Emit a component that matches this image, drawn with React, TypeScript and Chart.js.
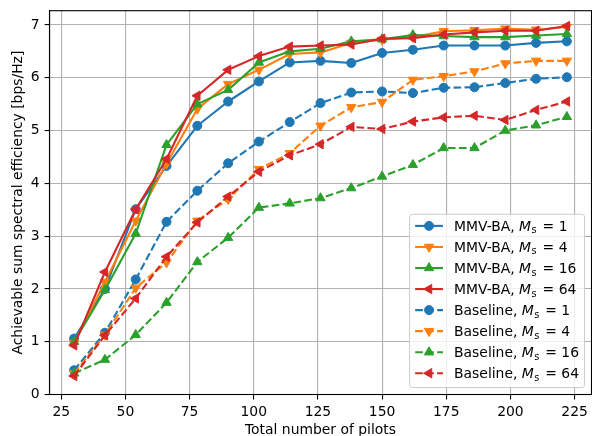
import { useEffect, useRef } from "react";
import { Chart, registerables } from "chart.js";

Chart.register(...registerables);

// ---------------- data ----------------
const pilots = [30, 42, 54, 66, 78, 90, 102, 114, 126, 138, 150, 162, 174, 186, 198, 210, 222];
const xTicks = [25, 50, 75, 100, 125, 150, 175, 200, 225];
const yTicks = [0, 1, 2, 3, 4, 5, 6, 7];

const mmvMs1 = [1.06, 2.0, 3.51, 4.33, 5.09, 5.55, 5.93, 6.29, 6.32, 6.28, 6.47, 6.53, 6.61, 6.61, 6.61, 6.66, 6.69];
const mmvMs4 = [0.98, 2.13, 3.29, 4.37, 5.41, 5.88, 6.15, 6.45, 6.48, 6.66, 6.72, 6.77, 6.88, 6.9, 6.93, 6.91, 6.96];
const mmvMs16 = [1.0, 1.98, 3.05, 4.73, 5.5, 5.77, 6.29, 6.5, 6.55, 6.69, 6.73, 6.81, 6.79, 6.77, 6.77, 6.8, 6.83];
const mmvMs64 = [0.93, 2.32, 3.51, 4.46, 5.66, 6.15, 6.41, 6.59, 6.61, 6.63, 6.74, 6.75, 6.82, 6.86, 6.89, 6.89, 6.98];
const baseMs1 = [0.46, 1.17, 2.18, 3.27, 3.86, 4.38, 4.79, 5.16, 5.52, 5.72, 5.74, 5.71, 5.81, 5.82, 5.9, 5.98, 6.01];
const baseMs4 = [0.4, 1.13, 2.02, 2.5, 3.29, 3.7, 4.27, 4.57, 5.09, 5.44, 5.54, 5.96, 6.03, 6.12, 6.27, 6.32, 6.32];
const baseMs16 = [0.4, 0.66, 1.13, 1.74, 2.51, 2.97, 3.54, 3.62, 3.72, 3.91, 4.13, 4.35, 4.67, 4.67, 5.0, 5.1, 5.26];
const baseMs64 = [0.35, 1.12, 1.82, 2.61, 3.26, 3.75, 4.22, 4.53, 4.74, 5.07, 5.03, 5.17, 5.25, 5.28, 5.2, 5.39, 5.55];

const methods = ["MMV-BA", "Baseline"];
const msValues = ["1", "4", "16", "64"];
const seriesValues = [
  [mmvMs1, mmvMs4, mmvMs16, mmvMs64],
  [baseMs1, baseMs4, baseMs16, baseMs64],
];

const xTitle = "Total number of pilots";
const yTitle = "Achievable sum spectral efficiency [bps/Hz]";

// ---------------- styles ----------------
const FONT = "'DejaVu Sans', sans-serif";
const FS = 13.9;
const colors = ["#1f77b4", "#ff7f0e", "#2ca02c", "#d62728"];
// marker per Ms: circle, down triangle, up triangle, left triangle
const markerStyle = ["circle", "triangle", "triangle", "triangle"];
const markerRot = [0, 180, 0, 270];
const markerRad = [4.5, 5.4, 5.4, 5.4];
const DASH = [7.7, 3.3];

function drawMarker(ctx: CanvasRenderingContext2D, k: number, x: number, y: number, color: string) {
  ctx.save();
  ctx.setLineDash([]);
  ctx.fillStyle = color;
  ctx.strokeStyle = color;
  ctx.lineWidth = 1;
  ctx.beginPath();
  const r = markerRad[k];
  if (markerStyle[k] === "circle") {
    ctx.arc(x, y, r, 0, Math.PI * 2);
  } else {
    let a = (markerRot[k] * Math.PI) / 180;
    for (let i = 0; i < 3; i++) {
      const px = x + Math.sin(a) * r;
      const py = y - Math.cos(a) * r;
      if (i === 0) ctx.moveTo(px, py);
      else ctx.lineTo(px, py);
      a += (2 * Math.PI) / 3;
    }
    ctx.closePath();
  }
  ctx.fill();
  ctx.stroke();
  ctx.restore();
}

const framePlugin = {
  id: "mplFrame",
  afterDatasetsDraw(chart: any) {
    const { ctx, chartArea: a } = chart;
    ctx.save();
    ctx.strokeStyle = "#000";
    ctx.lineWidth = 1.1;
    ctx.strokeRect(a.left, a.top, a.right - a.left, a.bottom - a.top);
    ctx.restore();
  },
};

const legendPlugin = {
  id: "mplLegend",
  afterDraw(chart: any) {
    const ctx: CanvasRenderingContext2D = chart.ctx;
    const a = chart.chartArea;
    const regular = `${FS}px ${FONT}`;
    const italic = `italic ${FS}px ${FONT}`;
    const small = `${FS * 0.7}px ${FONT}`;
    const entries: { m: string; v: string; k: number; dashed: boolean }[] = [];
    methods.forEach((m, mi) => msValues.forEach((v, k) => entries.push({ m, v, k, dashed: mi === 1 })));
    const parts = (e: any): [string, string, number, number][] => [
      [`${e.m}, `, regular, 0, 0],
      ["M", italic, 0, 0.5],
      ["s", small, 2.5, 1.5],
      [` = ${e.v}`, regular, 0, 0],
    ];
    ctx.save();
    const widthOf = (e: any) =>
      parts(e).reduce((s, [t, f, , extra]) => {
        ctx.font = f;
        return s + ctx.measureText(t).width + extra;
      }, 0);
    const maxW = Math.max(...entries.map(widthOf));
    const pad = 0.4 * FS;
    const handleLen = 2 * FS;
    const handlePad = 0.8 * FS;
    const rowH = 21.05;
    const right = a.right - 0.5 * FS;
    const bottom = a.bottom - 0.5 * FS;
    const left = right - (pad + handleLen + handlePad + maxW + pad);
    const top = bottom - 173.3;
    const rr = 0.2 * FS;
    ctx.beginPath();
    ctx.moveTo(left + rr, top);
    ctx.lineTo(right - rr, top);
    ctx.quadraticCurveTo(right, top, right, top + rr);
    ctx.lineTo(right, bottom - rr);
    ctx.quadraticCurveTo(right, bottom, right - rr, bottom);
    ctx.lineTo(left + rr, bottom);
    ctx.quadraticCurveTo(left, bottom, left, bottom - rr);
    ctx.lineTo(left, top + rr);
    ctx.quadraticCurveTo(left, top, left + rr, top);
    ctx.closePath();
    ctx.fillStyle = "rgba(255,255,255,0.8)";
    ctx.fill();
    ctx.strokeStyle = "#cccccc";
    ctx.lineWidth = 1;
    ctx.stroke();

    entries.forEach((e, i) => {
      const cy = bottom - 14.3 - (entries.length - 1 - i) * rowH;
      const hx = left + pad;
      const color = colors[e.k];
      ctx.save();
      ctx.strokeStyle = color;
      ctx.lineWidth = 2.1;
      ctx.setLineDash(e.dashed ? DASH : []);
      ctx.beginPath();
      ctx.moveTo(hx, cy);
      ctx.lineTo(hx + handleLen, cy);
      ctx.stroke();
      ctx.restore();
      drawMarker(ctx, e.k, hx + handleLen / 2, cy, color);
      let tx = hx + handleLen + handlePad;
      const base = cy + 5;
      ctx.fillStyle = "#000";
      ctx.textBaseline = "alphabetic";
      ctx.textAlign = "left";
      parts(e).forEach(([t, f, dy, extra]) => {
        ctx.font = f;
        ctx.fillText(t, tx, base + dy);
        tx += ctx.measureText(t).width + extra;
      });
    });
    ctx.restore();
  },
};

export default function App() {
  const ref = useRef<HTMLCanvasElement | null>(null);

  useEffect(() => {
    const canvas = ref.current;
    if (!canvas) return;
    const datasets: any[] = [];
    let idx = 0;
    methods.forEach((m, mi) => {
      msValues.forEach((v, k) => {
        const vals = seriesValues[mi][k];
        datasets.push({
          label: `${m}, Ms = ${v}`,
          data: pilots.map((x, j) => ({ x, y: vals[j] })),
          borderColor: colors[k],
          backgroundColor: colors[k],
          borderWidth: 2.1,
          borderDash: mi === 1 ? DASH : [],
          borderJoinStyle: "round",
          pointStyle: markerStyle[k],
          pointRotation: markerRot[k],
          pointRadius: markerRad[k],
          pointBorderWidth: 1,
          pointBorderColor: colors[k],
          pointBackgroundColor: colors[k],
          tension: 0,
          fill: false,
          order: 100 - idx,
        });
        idx++;
      });
    });

    const tickFont = { family: FONT, size: FS };
    const chart = new Chart(canvas, {
      type: "line",
      data: { datasets },
      plugins: [framePlugin, legendPlugin],
      options: {
        responsive: false,
        animation: false,
        devicePixelRatio: 1,
        layout: { autoPadding: false, padding: { top: 10.7, right: 0.5, left: 0, bottom: 0 } },
        plugins: { legend: { display: false }, tooltip: { enabled: false } },
        elements: { line: { tension: 0 } },
        scales: {
          x: {
            type: "linear",
            min: 20.4,
            max: 231.6,
            afterBuildTicks: (s: any) => {
              s.ticks = xTicks.map((value) => ({ value }));
            },
            afterFit: (s: any) => {
              s.height = 41.5;
              s.paddingLeft = 0;
              s.paddingRight = 0;
              s.paddingTop = 0;
              s.paddingBottom = 0;
            },
            grid: { color: "#b0b0b0", lineWidth: 1.1, tickColor: "#000", tickLength: 4.9, tickWidth: 1.1 },
            border: { color: "#000", width: 1.1 },
            ticks: { color: "#000", font: tickFont, padding: 4.9, maxRotation: 0, autoSkip: false, includeBounds: false },
            title: {
              display: true,
              text: xTitle,
              color: "#000",
              font: { family: FONT, size: FS, lineHeight: 1.1 },
              padding: { top: 0, bottom: -2 },
            },
          },
          y: {
            type: "linear",
            min: 0,
            max: 7.27,
            afterBuildTicks: (s: any) => {
              s.ticks = yTicks.map((value) => ({ value }));
            },
            afterFit: (s: any) => {
              s.width = 49.5;
              s.paddingLeft = 0;
              s.paddingRight = 0;
              s.paddingTop = 0;
              s.paddingBottom = 0;
            },
            grid: { color: "#b0b0b0", lineWidth: 1.1, tickColor: "#000", tickLength: 4.9, tickWidth: 1.1 },
            border: { color: "#000", width: 1.1 },
            ticks: { color: "#000", font: tickFont, padding: 4.9, includeBounds: false },
            title: {
              display: true,
              text: yTitle,
              color: "#000",
              font: { family: FONT, size: FS, lineHeight: 1.1 },
              padding: { top: 11, bottom: 0 },
            },
          },
        },
      } as any,
    });
    return () => chart.destroy();
  }, []);

  return (
    <div style={{ position: "fixed", left: 0, top: 0, width: 592, height: 436, background: "#fff" }}>
      <canvas ref={ref} width={592} height={436} style={{ display: "block", width: 592, height: 436 }} />
    </div>
  );
}
